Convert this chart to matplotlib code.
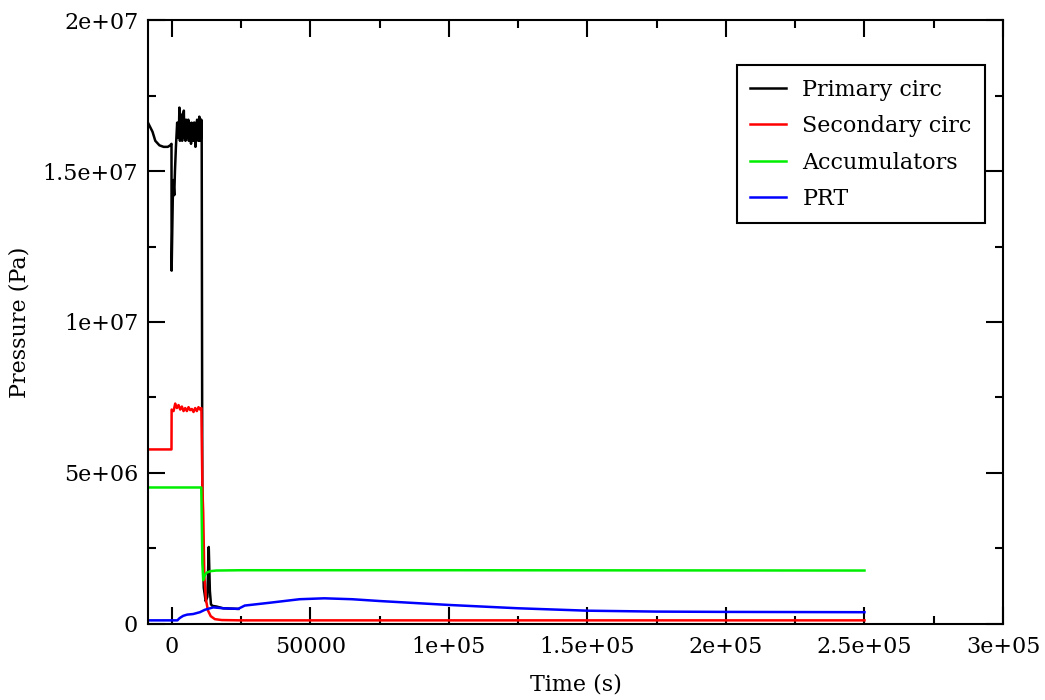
import numpy as np
import matplotlib
matplotlib.use("Agg")
import matplotlib.pyplot as plt

# Pressure transients (time in s, pressure in Pa)
primary_t = [-8640, -7000, -6000, -4500, -3000, -1500, -600, -150, -100, 300, 500, 850, 1100, 1450,
             1900, 2100, 2300, 2500, 2700, 2900, 3100, 3300, 3500, 3700, 3900, 4100, 4300, 4500,
             4700, 4900, 5100, 5300, 5500, 5700, 5900, 6100, 6300, 6500, 6700, 6900, 7100, 7300,
             7500, 7700, 7900, 8100, 8300, 8500, 8700, 8900, 9100, 9300, 9500, 9700, 9900, 10100,
             10300, 10500, 10600, 10750, 11000, 11500, 12200,
             12800, 13300, 13700, 14100, 14600, 16000, 18500, 21000, 24000]
primary_p = [1.66e7, 1.63e7, 1.60e7, 1.585e7, 1.58e7, 1.58e7, 1.585e7, 1.59e7, 1.17e7, 1.40e7,
             1.47e7, 1.42e7, 1.50e7, 1.58e7, 1.66e7, 1.61e7, 1.66e7, 1.62e7, 1.71e7, 1.60e7,
             1.67e7, 1.62e7, 1.66e7, 1.60e7, 1.69e7, 1.61e7, 1.70e7, 1.62e7, 1.66e7, 1.60e7,
             1.67e7, 1.61e7, 1.66e7, 1.62e7, 1.67e7, 1.60e7, 1.66e7, 1.61e7, 1.65e7, 1.59e7,
             1.66e7, 1.60e7, 1.64e7, 1.60e7, 1.66e7, 1.61e7, 1.66e7, 1.58e7, 1.65e7, 1.60e7,
             1.67e7, 1.61e7, 1.66e7, 1.60e7, 1.68e7, 1.60e7, 1.67e7, 1.61e7, 1.67e7, 1.62e7,
             3.0e6, 1.2e6, 7.5e5, 9.0e5, 2.55e6, 1.1e6, 6.5e5, 6.0e5, 5.8e5, 5.2e5, 5.1e5, 5.0e5]

secondary_t = [-8640, -150, -100, 600, 1200, 1800, 2400, 3000, 3600, 4200, 4800, 5400, 6000,
               6600, 7200, 7800, 8400, 9000, 9600, 10200, 10650, 11000, 11300, 11700, 12300,
               13000, 14000, 15500, 18000, 25000, 250000]
secondary_p = [5.78e6, 5.78e6, 7.10e6, 7.05e6, 7.30e6, 7.15e6, 7.25e6, 7.10e6, 7.20e6, 7.05e6,
               7.15e6, 7.05e6, 7.18e6, 7.08e6, 7.12e6, 7.02e6, 7.15e6, 7.05e6, 7.18e6, 7.10e6,
               7.15e6, 4.5e6, 3.7e6, 1.6e6, 8.0e5, 4.5e5, 2.6e5, 1.6e5, 1.3e5, 1.2e5, 1.2e5]

accum_t = [-8640, 10600, 11000, 11300, 11800, 12500, 14000, 16000, 25000, 100000, 250000]
accum_p = [4.52e6, 4.52e6, 2.0e6, 1.45e6, 1.60e6, 1.70e6, 1.75e6, 1.77e6, 1.78e6, 1.78e6, 1.77e6]

prt_t = [-8640, 2000, 2600, 3200, 4100, 5500, 7700, 10100, 11900, 14900, 18500, 23900, 26300,
         35000, 46100, 55000, 65000, 75000, 100000, 125000, 150000, 175000, 200000, 250000]
prt_p = [1.2e5, 1.2e5, 1.8e5, 2.2e5, 2.7e5, 3.1e5, 3.3e5, 3.9e5, 4.7e5, 5.5e5, 5.2e5, 5.0e5, 6.1e5,
         7.0e5, 8.2e5, 8.5e5, 8.2e5, 7.6e5, 6.3e5, 5.2e5, 4.4e5, 4.1e5, 4.0e5, 3.9e5]

series = [
    ("Primary circ", primary_t, primary_p, "black"),
    ("Secondary circ", secondary_t, secondary_p, "red"),
    ("Accumulators", accum_t, accum_p, "#00ee00"),
    ("PRT", prt_t, prt_p, "blue"),
]

plt.rcParams['font.family'] = ['DejaVu Serif']
plt.rcParams['font.size'] = 16

fig = plt.figure(figsize=(10.45, 7.0), dpi=100)
ax = fig.add_axes([0.1416, 0.1086, 0.8182, 0.8628])

for label, t, p, color in series:
    ax.plot(t, p, color=color, lw=1.8, label=label)

ax.set_xlim(-8640, 3e5)
ax.set_ylim(0, 2e7)
ax.set_xticks([0, 50000, 100000, 150000, 200000, 250000, 300000])
ax.set_xticklabels(["0", "50000", "1e+05", "1.5e+05", "2e+05", "2.5e+05", "3e+05"])
ax.set_xticks(np.arange(25000, 300000, 50000), minor=True)
ax.set_yticks([0, 5e6, 1e7, 1.5e7, 2e7])
ax.set_yticklabels(["0", "5e+06", "1e+07", "1.5e+07", "2e+07"])
ax.set_yticks(np.arange(2.5e6, 2e7, 5e6), minor=True)

ax.tick_params(which='both', direction='in', top=True, right=True, width=1.5)
ax.tick_params(which='major', length=12)
ax.tick_params(which='minor', length=6)
ax.tick_params(axis='x', pad=9)
ax.tick_params(axis='y', pad=7)
for sp in ax.spines.values():
    sp.set_linewidth(1.5)

ax.set_xlabel("Time (s)", labelpad=11)
ax.set_ylabel("Pressure (Pa)", labelpad=9)

leg = ax.legend(loc='upper right', bbox_to_anchor=(0.979, 0.925), borderaxespad=0,
                fancybox=False, framealpha=1, edgecolor='black', handlelength=1.6,
                handletextpad=0.75, labelspacing=0.65, borderpad=0.6)
leg.get_frame().set_linewidth(1.5)

fig.savefig("out.png", dpi=100)
